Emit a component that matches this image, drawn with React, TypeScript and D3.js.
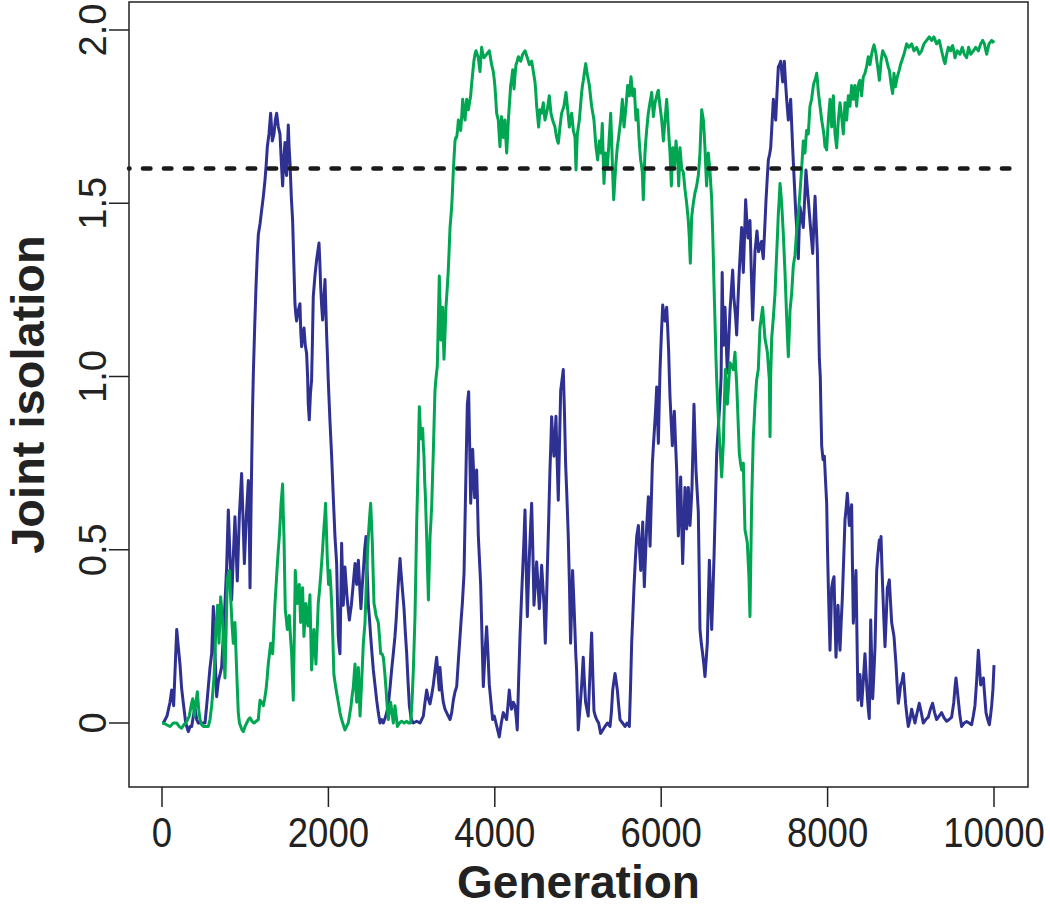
import * as d3 from "d3";
import { useEffect, useRef } from "react";

// generation, joint isolation (blue run)
const blueRun: [number, number][] = [
  [0, 0], [16, 0], [60, 0.02], [96, 0.06], [116, 0.095], [140, 0.05], [160, 0.17], [177, 0.27], [196, 0.22],
  [216, 0.17], [236, 0.1], [256, 0.058], [285, 0], [316, -0.025], [337, -0.01], [357, -0.01], [377, 0.02],
  [397, 0.043], [417, 0.01], [437, 0], [477, 0], [517, 0], [537, 0.05], [557, 0.105], [577, 0.16], [597, 0.2],
  [617, 0.336], [637, 0.2], [657, 0.076], [677, 0.12], [697, 0.14], [717, 0.162], [737, 0.25], [757, 0.346],
  [777, 0.45], [797, 0.615], [817, 0.48], [837, 0.355], [857, 0.48], [877, 0.595], [891, 0.5], [905, 0.41],
  [930, 0.6], [957, 0.72], [975, 0.58], [990, 0.46], [1014, 0.6], [1038, 0.7], [1050, 0.55], [1058, 0.39],
  [1068, 0.58], [1078, 0.75], [1088, 0.9], [1098, 1.01], [1115, 1.15], [1130, 1.26], [1145, 1.35], [1158, 1.41],
  [1178, 1.44], [1198, 1.48], [1218, 1.52], [1238, 1.567], [1252, 1.61], [1266, 1.663], [1286, 1.7], [1306, 1.76],
  [1326, 1.68], [1346, 1.7], [1362, 1.74], [1378, 1.76], [1398, 1.72], [1418, 1.7], [1434, 1.62], [1450, 1.55],
  [1464, 1.63], [1478, 1.675], [1488, 1.6], [1498, 1.58], [1508, 1.66], [1518, 1.726], [1528, 1.66], [1538, 1.62],
  [1554, 1.52], [1570, 1.45], [1584, 1.33], [1598, 1.21], [1608, 1.18], [1618, 1.16], [1638, 1.19], [1658, 1.21],
  [1668, 1.13], [1678, 1.086], [1692, 1.12], [1707, 1.14], [1722, 1.09], [1738, 1.067], [1750, 1.0], [1758, 0.92],
  [1770, 0.875], [1784, 0.95], [1798, 0.99], [1808, 1.1], [1818, 1.23], [1838, 1.29], [1858, 1.336], [1872, 1.36],
  [1887, 1.385], [1897, 1.33], [1907, 1.26], [1920, 1.2], [1931, 1.163], [1945, 1.22], [1959, 1.28], [1969, 1.2],
  [1979, 1.12], [1990, 1.05], [1998, 0.99], [2019, 0.87], [2039, 0.77], [2059, 0.65], [2079, 0.538], [2089, 0.5],
  [2099, 0.46], [2109, 0.35], [2119, 0.25], [2129, 0.22], [2139, 0.2], [2149, 0.35], [2159, 0.519], [2169, 0.43],
  [2179, 0.34], [2189, 0.4], [2199, 0.45], [2225, 0.36], [2252, 0.297], [2264, 0.32], [2276, 0.34], [2298, 0.4],
  [2320, 0.46], [2330, 0.43], [2340, 0.4], [2350, 0.44], [2360, 0.47], [2375, 0.4], [2391, 0.33], [2405, 0.39],
  [2420, 0.44], [2436, 0.5], [2452, 0.538], [2466, 0.44], [2480, 0.34], [2494, 0.3], [2508, 0.25], [2524, 0.2],
  [2540, 0.153], [2560, 0.11], [2580, 0.066], [2600, 0.03], [2620, 0], [2640, 0.01], [2660, 0], [2690, 0.02],
  [2720, 0.05], [2740, 0.1], [2760, 0.153], [2780, 0.2], [2800, 0.25], [2815, 0.3], [2829, 0.36], [2845, 0.42],
  [2861, 0.475], [2871, 0.44], [2881, 0.41], [2895, 0.37], [2909, 0.33], [2925, 0.26], [2941, 0.2], [2957, 0.12],
  [2973, 0.05], [2997, 0.01], [3021, 0], [3061, 0.005], [3101, 0], [3141, 0.02], [3161, 0.06], [3181, 0.095],
  [3201, 0.07], [3221, 0.055], [3241, 0.08], [3261, 0.11], [3281, 0.15], [3301, 0.19], [3318, 0.14], [3333, 0.095],
  [3341, 0.16], [3361, 0.1], [3381, 0.06], [3401, 0.04], [3421, 0.03], [3441, 0.02], [3462, 0.01], [3482, 0.03],
  [3502, 0.066], [3522, 0.09], [3542, 0.105], [3562, 0.18], [3582, 0.25], [3596, 0.3], [3610, 0.345], [3630, 0.43],
  [3642, 0.58], [3654, 0.73], [3662, 0.83], [3670, 0.92], [3686, 0.956], [3698, 0.8], [3710, 0.634], [3722, 0.7],
  [3734, 0.79], [3746, 0.72], [3758, 0.65], [3770, 0.7], [3782, 0.73], [3792, 0.64], [3802, 0.54], [3816, 0.47],
  [3830, 0.4], [3846, 0.25], [3862, 0.105], [3882, 0.2], [3902, 0.278], [3918, 0.2], [3934, 0.11], [3954, 0.06],
  [3974, 0.01], [3994, 0.02], [4014, 0], [4034, -0.02], [4054, -0.04], [4078, 0], [4102, 0.03], [4122, 0.02],
  [4142, 0.01], [4158, 0.05], [4174, 0.095], [4188, 0.06], [4202, 0.04], [4222, 0.06], [4242, 0.05], [4256, 0.02],
  [4270, -0.02], [4286, 0.12], [4303, 0.25], [4319, 0.35], [4335, 0.44], [4349, 0.52], [4363, 0.615], [4377, 0.45],
  [4391, 0.307], [4403, 0.4], [4415, 0.48], [4429, 0.56], [4443, 0.634], [4457, 0.5], [4471, 0.34], [4487, 0.4],
  [4503, 0.465], [4519, 0.4], [4535, 0.33], [4549, 0.39], [4563, 0.455], [4577, 0.4], [4591, 0.345], [4607, 0.23],
  [4619, 0.33], [4631, 0.44], [4647, 0.58], [4663, 0.73], [4673, 0.8], [4683, 0.884], [4697, 0.82], [4711, 0.77],
  [4723, 0.82], [4735, 0.885], [4749, 0.76], [4763, 0.643], [4777, 0.8], [4792, 0.96], [4808, 0.99], [4823, 1.02],
  [4837, 0.9], [4851, 0.75], [4867, 0.65], [4883, 0.54], [4897, 0.4], [4911, 0.23], [4923, 0.33], [4935, 0.44],
  [4949, 0.36], [4963, 0.27], [4973, 0.2], [4983, 0.154], [4993, 0.07], [5003, -0.02], [5023, 0.04], [5043, 0.105],
  [5063, 0.19], [5077, 0.12], [5091, 0.06], [5107, 0.04], [5123, 0.02], [5143, 0.14], [5164, 0.26], [5178, 0.14],
  [5192, 0.035], [5208, 0.02], [5224, 0.01], [5248, 0], [5272, -0.03], [5298, -0.02], [5324, -0.01], [5355, 0],
  [5385, -0.01], [5401, 0.03], [5417, 0.095], [5431, 0.12], [5445, 0.143], [5459, 0.12], [5473, 0.095], [5489, 0.05],
  [5505, 0.01], [5535, 0], [5565, -0.01], [5590, 0], [5617, -0.01], [5631, 0.1], [5645, 0.23], [5659, 0.31],
  [5673, 0.393], [5689, 0.47], [5706, 0.54], [5726, 0.57], [5740, 0.5], [5754, 0.44], [5766, 0.51], [5778, 0.58],
  [5788, 0.48], [5797, 0.393], [5811, 0.48], [5826, 0.57], [5846, 0.653], [5856, 0.58], [5866, 0.51], [5880, 0.63],
  [5894, 0.75], [5906, 0.8], [5918, 0.846], [5932, 0.9], [5946, 0.97], [5956, 0.88], [5966, 0.807], [5976, 0.92],
  [5986, 1.02], [6002, 1.12], [6018, 1.206], [6032, 1.18], [6046, 1.16], [6056, 1.18], [6066, 1.2], [6078, 1.14],
  [6090, 1.07], [6098, 1.0], [6106, 0.94], [6120, 0.87], [6134, 0.8], [6146, 0.86], [6158, 0.9], [6172, 0.81],
  [6186, 0.73], [6196, 0.63], [6206, 0.54], [6220, 0.62], [6234, 0.71], [6246, 0.58], [6258, 0.46], [6272, 0.57],
  [6286, 0.68], [6296, 0.62], [6306, 0.56], [6316, 0.62], [6326, 0.68], [6336, 0.62], [6346, 0.57], [6358, 0.62],
  [6370, 0.68], [6382, 0.8], [6394, 0.92], [6406, 0.82], [6418, 0.73], [6432, 0.67], [6446, 0.61], [6456, 0.45],
  [6466, 0.27], [6482, 0.23], [6498, 0.2], [6512, 0.17], [6526, 0.134], [6540, 0.18], [6554, 0.23], [6566, 0.35],
  [6579, 0.47], [6593, 0.37], [6607, 0.27], [6621, 0.37], [6635, 0.48], [6651, 0.63], [6667, 0.78], [6683, 0.84],
  [6699, 0.9], [6713, 0.96], [6720, 1.0], [6733, 1.3], [6747, 1.09], [6767, 1.2], [6781, 1.1], [6795, 1.01],
  [6811, 1.1], [6827, 1.19], [6843, 1.25], [6859, 1.307], [6873, 1.23], [6895, 1.17], [6907, 1.12], [6923, 1.22],
  [6939, 1.307], [6953, 1.37], [6967, 1.43], [6977, 1.36], [6987, 1.3], [7001, 1.4], [7015, 1.51], [7029, 1.45],
  [7043, 1.4], [7055, 1.42], [7067, 1.45], [7083, 1.3], [7099, 1.163], [7113, 1.26], [7127, 1.36], [7139, 1.39],
  [7151, 1.42], [7161, 1.39], [7171, 1.36], [7189, 1.38], [7207, 1.39], [7217, 1.36], [7227, 1.34], [7243, 1.42],
  [7260, 1.51], [7274, 1.57], [7288, 1.625], [7302, 1.64], [7316, 1.66], [7332, 1.73], [7348, 1.8], [7362, 1.77],
  [7376, 1.74], [7392, 1.82], [7408, 1.894], [7422, 1.9], [7436, 1.91], [7448, 1.88], [7460, 1.85], [7470, 1.88],
  [7480, 1.91], [7494, 1.85], [7508, 1.8], [7518, 1.77], [7528, 1.74], [7542, 1.77], [7556, 1.8], [7568, 1.73],
  [7580, 1.66], [7594, 1.59], [7608, 1.52], [7618, 1.47], [7628, 1.43], [7638, 1.38], [7648, 1.34], [7658, 1.42],
  [7668, 1.49], [7688, 1.46], [7708, 1.43], [7724, 1.51], [7740, 1.596], [7754, 1.55], [7768, 1.51], [7778, 1.48],
  [7788, 1.45], [7805, 1.4], [7821, 1.355], [7835, 1.44], [7849, 1.52], [7863, 1.44], [7877, 1.36], [7889, 1.2],
  [7901, 1.05], [7912, 1.0], [7920, 0.9], [7929, 0.8], [7945, 0.76], [7961, 0.77], [7975, 0.7], [7989, 0.634],
  [7999, 0.5], [8009, 0.393], [8019, 0.3], [8029, 0.21], [8039, 0.3], [8049, 0.39], [8063, 0.41], [8077, 0.422],
  [8089, 0.3], [8101, 0.19], [8113, 0.27], [8125, 0.34], [8137, 0.27], [8149, 0.21], [8163, 0.29], [8177, 0.36],
  [8193, 0.47], [8209, 0.586], [8223, 0.62], [8237, 0.663], [8249, 0.62], [8261, 0.57], [8275, 0.6], [8289, 0.63],
  [8299, 0.45], [8309, 0.288], [8325, 0.36], [8341, 0.44], [8353, 0.25], [8365, 0.066], [8377, 0.1], [8389, 0.14],
  [8399, 0.09], [8409, 0.05], [8429, 0.12], [8449, 0.2], [8463, 0.14], [8477, 0.08], [8489, 0.04], [8501, 0.013],
  [8510, 0.15], [8518, 0.297], [8530, 0.18], [8542, 0.07], [8556, 0.14], [8570, 0.22], [8580, 0.33], [8590, 0.44],
  [8606, 0.49], [8622, 0.528], [8632, 0.5], [8642, 0.538], [8652, 0.46], [8662, 0.39], [8676, 0.3], [8690, 0.22],
  [8704, 0.3], [8718, 0.39], [8730, 0.4], [8742, 0.413], [8756, 0.35], [8770, 0.29], [8784, 0.27], [8798, 0.25],
  [8810, 0.21], [8822, 0.17], [8836, 0.11], [8850, 0.057], [8864, 0.08], [8878, 0.11], [8894, 0.12], [8910, 0.143],
  [8924, 0.1], [8938, 0.055], [8954, 0.02], [8970, -0.01], [8990, 0.01], [9010, 0.04], [9030, 0.02], [9050, 0],
  [9076, 0.03], [9102, 0.057], [9126, 0.03], [9150, 0], [9180, 0.01], [9210, 0.017], [9236, 0.04], [9262, 0.057],
  [9286, 0.03], [9310, 0.01], [9340, 0.02], [9370, 0.03], [9400, 0.015], [9431, 0.005], [9461, 0.01], [9491, 0.017],
  [9517, 0.06], [9530, 0.1], [9543, 0.13], [9557, 0.1], [9571, 0.066], [9591, 0.02], [9611, -0.01], [9641, 0],
  [9671, 0.004], [9701, 0], [9731, -0.005], [9751, 0.02], [9771, 0.05], [9791, 0.12], [9812, 0.21], [9826, 0.16],
  [9840, 0.11], [9856, 0.12], [9872, 0.13], [9888, 0.08], [9904, 0.03], [9924, 0.01], [9944, -0.005], [9958, 0.02],
  [9972, 0.05], [9988, 0.1], [10000, 0.167],
];

// generation, joint isolation (green run)
const greenRun: [number, number][] = [
  [0, 0], [16, 0], [56, -0.005], [96, -0.01], [136, 0], [176, 0], [206, -0.01], [236, -0.015], [262, -0.005],
  [288, 0], [308, 0.01], [328, 0.02], [350, 0.05], [369, 0.07], [389, 0.02], [407, 0.06], [425, 0.09], [441, 0.04],
  [457, 0.01], [477, -0.005], [497, -0.01], [527, -0.01], [557, -0.01], [577, 0.01], [597, 0.05], [611, 0.09],
  [625, 0.13], [637, 0.2], [649, 0.288], [659, 0.31], [669, 0.34], [677, 0.28], [685, 0.23], [695, 0.3], [705, 0.364],
  [717, 0.33], [729, 0.29], [743, 0.2], [757, 0.13], [771, 0.27], [785, 0.413], [797, 0.43], [809, 0.44], [819, 0.39],
  [829, 0.345], [843, 0.28], [857, 0.23], [867, 0.26], [877, 0.29], [887, 0.22], [897, 0.153], [907, 0.09], [917, 0.03],
  [931, 0], [946, -0.01], [962, -0.02], [978, -0.025], [998, -0.01], [1018, 0], [1038, 0.01], [1058, 0.015],
  [1082, 0.005], [1106, 0], [1132, 0.005], [1158, 0.01], [1168, 0.04], [1178, 0.066], [1198, 0.06], [1218, 0.05],
  [1234, 0.07], [1250, 0.095], [1264, 0.13], [1278, 0.172], [1292, 0.2], [1306, 0.23], [1318, 0.22], [1330, 0.2],
  [1344, 0.27], [1358, 0.345], [1372, 0.4], [1386, 0.455], [1398, 0.5], [1410, 0.538], [1420, 0.58], [1430, 0.63],
  [1440, 0.66], [1450, 0.69], [1458, 0.6], [1466, 0.54], [1474, 0.43], [1482, 0.326], [1494, 0.3], [1506, 0.27],
  [1518, 0.29], [1530, 0.31], [1544, 0.25], [1558, 0.2], [1568, 0.13], [1578, 0.066], [1590, 0.25], [1602, 0.44],
  [1614, 0.39], [1626, 0.345], [1638, 0.37], [1650, 0.4], [1658, 0.35], [1666, 0.29], [1678, 0.34], [1690, 0.39],
  [1698, 0.32], [1706, 0.25], [1718, 0.3], [1730, 0.345], [1742, 0.31], [1754, 0.28], [1766, 0.32], [1778, 0.37],
  [1788, 0.26], [1798, 0.153], [1812, 0.21], [1826, 0.27], [1838, 0.22], [1850, 0.17], [1864, 0.26], [1878, 0.345],
  [1892, 0.38], [1906, 0.42], [1918, 0.46], [1930, 0.5], [1940, 0.54], [1950, 0.576], [1958, 0.6], [1966, 0.634],
  [1976, 0.56], [1986, 0.48], [1994, 0.44], [2002, 0.4], [2010, 0.42], [2018, 0.44], [2030, 0.39], [2042, 0.33],
  [2054, 0.24], [2066, 0.14], [2078, 0.12], [2090, 0.1], [2104, 0.08], [2119, 0.06], [2139, 0.03], [2159, 0.01],
  [2179, -0.005], [2199, -0.02], [2219, -0.01], [2239, 0], [2256, 0.025], [2272, 0.05], [2286, 0.08], [2300, 0.105],
  [2310, 0.14], [2320, 0.17], [2330, 0.1], [2340, 0.06], [2350, 0.11], [2360, 0.16], [2370, 0.09], [2380, 0.02],
  [2400, 0.12], [2420, 0.23], [2430, 0.26], [2440, 0.29], [2450, 0.36], [2460, 0.44], [2470, 0.49], [2480, 0.538],
  [2494, 0.59], [2508, 0.634], [2518, 0.58], [2528, 0.52], [2538, 0.43], [2548, 0.345], [2560, 0.33], [2572, 0.31],
  [2586, 0.3], [2600, 0.29], [2614, 0.25], [2628, 0.2], [2644, 0.2], [2660, 0.19], [2676, 0.15], [2692, 0.1],
  [2706, 0.05], [2720, 0.01], [2734, 0.04], [2748, 0.06], [2764, 0.03], [2780, 0], [2790, 0.02], [2800, 0.05],
  [2815, 0.02], [2829, -0.01], [2855, 0], [2881, 0.005], [2911, 0], [2941, 0.005], [2965, 0], [2989, 0],
  [3005, 0.06], [3021, 0.153], [3031, 0.23], [3041, 0.31], [3051, 0.44], [3061, 0.576], [3071, 0.67], [3081, 0.77],
  [3087, 0.85], [3093, 0.913], [3103, 0.86], [3113, 0.82], [3123, 0.84], [3133, 0.85], [3141, 0.8], [3149, 0.77],
  [3157, 0.7], [3165, 0.66], [3173, 0.6], [3181, 0.538], [3191, 0.45], [3202, 0.355], [3212, 0.45], [3222, 0.54],
  [3232, 0.58], [3242, 0.63], [3252, 0.71], [3262, 0.79], [3272, 0.88], [3281, 0.96], [3295, 1.0], [3309, 1.03],
  [3321, 1.16], [3333, 1.29], [3343, 1.2], [3353, 1.105], [3363, 1.15], [3373, 1.2], [3381, 1.12], [3389, 1.05],
  [3401, 1.12], [3413, 1.2], [3427, 1.25], [3441, 1.307], [3452, 1.37], [3462, 1.43], [3472, 1.46], [3482, 1.49],
  [3492, 1.54], [3502, 1.596], [3512, 1.64], [3522, 1.68], [3532, 1.69], [3542, 1.69], [3552, 1.71], [3562, 1.74],
  [3576, 1.72], [3590, 1.71], [3602, 1.75], [3614, 1.8], [3628, 1.77], [3642, 1.74], [3652, 1.77], [3662, 1.8],
  [3672, 1.79], [3682, 1.77], [3696, 1.79], [3710, 1.81], [3720, 1.84], [3730, 1.865], [3740, 1.89], [3750, 1.913],
  [3762, 1.93], [3774, 1.94], [3788, 1.93], [3802, 1.92], [3812, 1.9], [3822, 1.88], [3832, 1.92], [3842, 1.95],
  [3856, 1.93], [3870, 1.92], [3886, 1.925], [3902, 1.93], [3918, 1.935], [3934, 1.94], [3948, 1.92], [3962, 1.9],
  [3972, 1.89], [3982, 1.88], [3992, 1.86], [4002, 1.836], [4012, 1.8], [4022, 1.76], [4032, 1.75], [4042, 1.74],
  [4052, 1.7], [4062, 1.663], [4072, 1.71], [4082, 1.75], [4092, 1.72], [4102, 1.69], [4112, 1.71], [4122, 1.74],
  [4132, 1.69], [4143, 1.645], [4153, 1.69], [4163, 1.74], [4177, 1.79], [4191, 1.84], [4203, 1.86], [4215, 1.885],
  [4223, 1.86], [4231, 1.83], [4243, 1.87], [4255, 1.9], [4269, 1.91], [4283, 1.923], [4297, 1.915], [4311, 1.91],
  [4323, 1.92], [4335, 1.93], [4349, 1.935], [4363, 1.94], [4377, 1.93], [4391, 1.92], [4403, 1.91], [4415, 1.9],
  [4429, 1.905], [4443, 1.91], [4453, 1.895], [4463, 1.88], [4473, 1.865], [4483, 1.85], [4493, 1.82], [4503, 1.78],
  [4515, 1.75], [4527, 1.72], [4535, 1.745], [4543, 1.77], [4553, 1.765], [4563, 1.76], [4573, 1.775], [4583, 1.79],
  [4593, 1.765], [4603, 1.74], [4617, 1.755], [4631, 1.77], [4643, 1.79], [4655, 1.81], [4665, 1.785], [4675, 1.76],
  [4685, 1.75], [4695, 1.74], [4709, 1.73], [4723, 1.72], [4733, 1.705], [4743, 1.69], [4753, 1.68], [4763, 1.673],
  [4773, 1.695], [4783, 1.72], [4793, 1.74], [4803, 1.76], [4817, 1.77], [4831, 1.78], [4843, 1.8], [4856, 1.82],
  [4864, 1.8], [4872, 1.78], [4884, 1.75], [4896, 1.72], [4910, 1.74], [4924, 1.76], [4934, 1.735], [4944, 1.71],
  [4954, 1.7], [4964, 1.69], [4970, 1.64], [4976, 1.596], [4984, 1.65], [4992, 1.7], [5004, 1.72], [5016, 1.74],
  [5030, 1.78], [5044, 1.82], [5054, 1.84], [5064, 1.855], [5078, 1.88], [5093, 1.903], [5103, 1.885], [5113, 1.87],
  [5125, 1.855], [5137, 1.84], [5150, 1.81], [5164, 1.78], [5178, 1.76], [5192, 1.74], [5204, 1.7], [5216, 1.663],
  [5226, 1.645], [5236, 1.625], [5246, 1.65], [5256, 1.68], [5266, 1.66], [5276, 1.645], [5284, 1.69], [5292, 1.73],
  [5302, 1.64], [5312, 1.557], [5322, 1.6], [5332, 1.645], [5342, 1.625], [5353, 1.605], [5363, 1.64], [5373, 1.68],
  [5383, 1.72], [5393, 1.76], [5403, 1.69], [5413, 1.615], [5421, 1.56], [5429, 1.51], [5441, 1.56], [5453, 1.605],
  [5463, 1.635], [5473, 1.663], [5483, 1.68], [5493, 1.7], [5503, 1.72], [5513, 1.74], [5523, 1.77], [5533, 1.8],
  [5543, 1.76], [5553, 1.72], [5565, 1.75], [5577, 1.78], [5587, 1.81], [5597, 1.84], [5607, 1.825], [5617, 1.81],
  [5627, 1.84], [5637, 1.865], [5647, 1.84], [5657, 1.81], [5667, 1.82], [5677, 1.83], [5687, 1.785], [5697, 1.74],
  [5707, 1.755], [5717, 1.77], [5725, 1.73], [5733, 1.69], [5743, 1.655], [5753, 1.625], [5763, 1.61], [5773, 1.59],
  [5779, 1.55], [5785, 1.51], [5795, 1.58], [5805, 1.645], [5815, 1.68], [5825, 1.71], [5835, 1.735], [5845, 1.76],
  [5855, 1.775], [5865, 1.79], [5876, 1.805], [5886, 1.82], [5896, 1.785], [5906, 1.75], [5916, 1.77], [5926, 1.79],
  [5936, 1.8], [5946, 1.81], [5956, 1.82], [5966, 1.826], [5976, 1.8], [5986, 1.78], [5996, 1.76], [6006, 1.74],
  [6016, 1.71], [6026, 1.68], [6036, 1.71], [6046, 1.74], [6056, 1.77], [6066, 1.8], [6076, 1.76], [6086, 1.72],
  [6096, 1.68], [6106, 1.645], [6114, 1.6], [6122, 1.55], [6130, 1.6], [6138, 1.66], [6148, 1.63], [6158, 1.605],
  [6168, 1.64], [6178, 1.68], [6188, 1.65], [6198, 1.625], [6204, 1.59], [6210, 1.55], [6218, 1.6], [6226, 1.66],
  [6236, 1.63], [6246, 1.6], [6256, 1.595], [6266, 1.59], [6276, 1.565], [6286, 1.54], [6296, 1.52], [6306, 1.5],
  [6316, 1.475], [6326, 1.45], [6332, 1.425], [6338, 1.4], [6344, 1.36], [6350, 1.327], [6358, 1.39], [6366, 1.46],
  [6376, 1.48], [6386, 1.5], [6396, 1.515], [6406, 1.53], [6416, 1.54], [6426, 1.55], [6436, 1.565], [6446, 1.58],
  [6456, 1.61], [6466, 1.645], [6476, 1.71], [6487, 1.77], [6497, 1.755], [6507, 1.74], [6517, 1.7], [6526, 1.66],
  [6536, 1.6], [6546, 1.55], [6556, 1.6], [6566, 1.645], [6576, 1.62], [6587, 1.59], [6597, 1.55], [6607, 1.51],
  [6613, 1.46], [6619, 1.413], [6627, 1.34], [6635, 1.26], [6643, 1.19], [6651, 1.12], [6659, 1.05], [6667, 0.99],
  [6683, 0.9], [6699, 0.826], [6713, 0.77], [6727, 0.71], [6737, 0.76], [6747, 0.81], [6759, 0.92], [6771, 1.02],
  [6783, 0.97], [6795, 0.92], [6811, 0.98], [6827, 1.04], [6847, 1.03], [6867, 1.02], [6877, 1.045], [6887, 1.07],
  [6897, 1.02], [6907, 0.98], [6923, 0.88], [6939, 0.778], [6953, 0.75], [6967, 0.73], [6977, 0.74], [6987, 0.75],
  [6997, 0.65], [7007, 0.557], [7021, 0.54], [7035, 0.52], [7045, 0.47], [7055, 0.42], [7061, 0.36], [7067, 0.307],
  [7077, 0.47], [7087, 0.634], [7097, 0.73], [7107, 0.826], [7117, 0.87], [7127, 0.92], [7137, 0.955], [7147, 0.99],
  [7157, 1.005], [7167, 1.02], [7177, 1.08], [7187, 1.14], [7203, 1.17], [7219, 1.2], [7233, 1.155], [7247, 1.11],
  [7262, 1.09], [7276, 1.07], [7288, 1.03], [7300, 0.99], [7308, 0.826], [7316, 1.0], [7328, 1.11], [7338, 1.14],
  [7348, 1.17], [7358, 1.205], [7368, 1.24], [7378, 1.3], [7388, 1.355], [7398, 1.41], [7408, 1.47], [7418, 1.51],
  [7428, 1.557], [7438, 1.53], [7448, 1.5], [7458, 1.455], [7468, 1.41], [7478, 1.355], [7488, 1.3], [7498, 1.235],
  [7508, 1.17], [7518, 1.11], [7528, 1.057], [7538, 1.12], [7548, 1.19], [7558, 1.215], [7568, 1.24], [7578, 1.28],
  [7588, 1.32], [7598, 1.335], [7608, 1.35], [7618, 1.385], [7628, 1.42], [7638, 1.445], [7648, 1.47], [7658, 1.5],
  [7668, 1.53], [7678, 1.565], [7688, 1.6], [7698, 1.64], [7708, 1.68], [7718, 1.66], [7728, 1.645], [7738, 1.68],
  [7748, 1.71], [7758, 1.705], [7768, 1.7], [7778, 1.74], [7788, 1.78], [7798, 1.79], [7808, 1.8], [7818, 1.82],
  [7829, 1.84], [7839, 1.85], [7849, 1.855], [7859, 1.865], [7869, 1.875], [7879, 1.85], [7889, 1.82], [7899, 1.8],
  [7909, 1.78], [7919, 1.76], [7929, 1.74], [7939, 1.725], [7949, 1.71], [7959, 1.69], [7969, 1.663], [7979, 1.66],
  [7989, 1.654], [7999, 1.7], [8009, 1.74], [8019, 1.77], [8029, 1.8], [8039, 1.76], [8049, 1.72], [8059, 1.765],
  [8069, 1.81], [8079, 1.755], [8089, 1.7], [8099, 1.68], [8109, 1.66], [8119, 1.7], [8129, 1.74], [8139, 1.765],
  [8149, 1.79], [8159, 1.77], [8169, 1.75], [8179, 1.725], [8189, 1.7], [8199, 1.745], [8209, 1.79], [8219, 1.765],
  [8229, 1.74], [8239, 1.775], [8249, 1.81], [8259, 1.795], [8269, 1.78], [8279, 1.81], [8289, 1.84], [8299, 1.82],
  [8309, 1.8], [8319, 1.82], [8329, 1.84], [8339, 1.81], [8349, 1.78], [8359, 1.81], [8369, 1.84], [8379, 1.85],
  [8389, 1.855], [8399, 1.83], [8409, 1.81], [8419, 1.84], [8429, 1.865], [8439, 1.87], [8449, 1.875], [8459, 1.885],
  [8469, 1.894], [8479, 1.91], [8489, 1.923], [8499, 1.91], [8509, 1.9], [8519, 1.915], [8529, 1.93], [8543, 1.945],
  [8558, 1.957], [8570, 1.945], [8582, 1.93], [8592, 1.91], [8602, 1.894], [8612, 1.875], [8622, 1.855], [8632, 1.88],
  [8642, 1.91], [8652, 1.925], [8662, 1.94], [8672, 1.935], [8682, 1.93], [8692, 1.925], [8702, 1.92], [8712, 1.91],
  [8722, 1.9], [8732, 1.89], [8742, 1.885], [8752, 1.865], [8762, 1.845], [8772, 1.83], [8782, 1.817], [8790, 1.845],
  [8798, 1.875], [8806, 1.855], [8814, 1.836], [8826, 1.85], [8838, 1.865], [8850, 1.875], [8862, 1.885], [8876, 1.9],
  [8890, 1.91], [8904, 1.92], [8918, 1.93], [8934, 1.945], [8950, 1.96], [8964, 1.955], [8978, 1.95], [8994, 1.955],
  [9010, 1.96], [9024, 1.95], [9038, 1.94], [9054, 1.945], [9070, 1.95], [9086, 1.94], [9102, 1.93], [9116, 1.935],
  [9130, 1.94], [9144, 1.95], [9158, 1.96], [9174, 1.965], [9190, 1.97], [9206, 1.975], [9222, 1.98], [9236, 1.975],
  [9250, 1.97], [9264, 1.975], [9278, 1.98], [9294, 1.97], [9310, 1.96], [9326, 1.965], [9342, 1.97], [9356, 1.955],
  [9370, 1.94], [9380, 1.93], [9390, 1.92], [9400, 1.91], [9411, 1.903], [9421, 1.915], [9431, 1.93], [9441, 1.94],
  [9451, 1.95], [9465, 1.945], [9479, 1.94], [9491, 1.95], [9503, 1.955], [9517, 1.94], [9531, 1.92], [9545, 1.93],
  [9559, 1.94], [9575, 1.935], [9591, 1.93], [9605, 1.94], [9619, 1.95], [9631, 1.94], [9643, 1.93], [9657, 1.925],
  [9671, 1.92], [9683, 1.935], [9695, 1.95], [9707, 1.94], [9720, 1.93], [9736, 1.935], [9752, 1.94], [9766, 1.945],
  [9780, 1.95], [9796, 1.945], [9812, 1.94], [9826, 1.95], [9840, 1.96], [9852, 1.965], [9864, 1.97], [9874, 1.965],
  [9884, 1.96], [9898, 1.945], [9912, 1.93], [9926, 1.945], [9940, 1.96], [9956, 1.965], [9972, 1.97], [9986, 1.965],
  [10000, 1.97],
];

const xTicks = [0, 2000, 4000, 6000, 8000, 10000];
const yTicks = [0, 0.5, 1, 1.5, 2];
const yTickLabels = ["0", "0.5", "1.0", "1.5", "2.0"];
const threshold = 1.6;

const W = 1050, H = 910;
const box = { left: 129, top: 2, right: 1028, bottom: 787 };
const font = "'Liberation Sans', Arial, Helvetica, sans-serif";

export default function App() {
  const ref = useRef<SVGSVGElement>(null);

  useEffect(() => {
    const svg = d3.select(ref.current);
    svg.selectAll("*").remove();

    const x = d3.scaleLinear().domain([0, 10000]).range([162, 994]);
    const y = d3.scaleLinear().domain([0, 2]).range([723, 30]);

    const line = d3
      .line<[number, number]>()
      .x(d => x(d[0]))
      .y(d => y(d[1]));

    svg.append("rect").attr("width", W).attr("height", H).attr("fill", "white");

    // blue first, green drawn on top
    svg.append("path")
      .datum(blueRun)
      .attr("d", line)
      .attr("fill", "none")
      .attr("stroke", "#2e3192")
      .attr("stroke-width", 3)
      .attr("stroke-linejoin", "round");

    svg.append("path")
      .datum(greenRun)
      .attr("d", line)
      .attr("fill", "none")
      .attr("stroke", "#00a651")
      .attr("stroke-width", 3)
      .attr("stroke-linejoin", "round");

    svg.append("line")
      .attr("x1", box.left)
      .attr("x2", 1020)
      .attr("y1", y(threshold))
      .attr("y2", y(threshold))
      .attr("stroke", "#1a1a1a")
      .attr("stroke-width", 4.5)
      .attr("stroke-linecap", "round")
      .attr("stroke-dasharray", "7.5 13.45")
      .attr("stroke-dashoffset", 7);

    svg.append("rect")
      .attr("x", box.left)
      .attr("y", box.top)
      .attr("width", box.right - box.left)
      .attr("height", box.bottom - box.top)
      .attr("fill", "none")
      .attr("stroke", "#222")
      .attr("stroke-width", 1.5);

    // x axis
    const xg = svg.append("g");
    xg.selectAll("line")
      .data(xTicks)
      .enter()
      .append("line")
      .attr("x1", d => x(d)).attr("x2", d => x(d))
      .attr("y1", box.bottom).attr("y2", box.bottom + 20)
      .attr("stroke", "#222").attr("stroke-width", 1.5);
    xg.selectAll("text")
      .data(xTicks)
      .enter()
      .append("text")
      .attr("transform", d => `translate(${x(d)},847) scale(0.85,1)`)
      .attr("text-anchor", "middle")
      .attr("font-family", font)
      .attr("font-size", 43)
      .attr("fill", "#222")
      .text(d => String(d));

    // y axis
    const yg = svg.append("g");
    yg.selectAll("line")
      .data(yTicks)
      .enter()
      .append("line")
      .attr("x1", box.left - 20).attr("x2", box.left)
      .attr("y1", d => y(d)).attr("y2", d => y(d))
      .attr("stroke", "#222").attr("stroke-width", 1.5);
    yg.selectAll("text")
      .data(yTicks)
      .enter()
      .append("text")
      .attr("transform", d => `translate(106,${y(d)}) rotate(-90)`)
      .attr("text-anchor", "middle")
      .attr("font-family", font)
      .attr("font-size", 38)
      .attr("fill", "#222")
      .text((d, i) => yTickLabels[i]);

    svg.append("text")
      .attr("transform", `translate(${(box.left + box.right) / 2},898)`)
      .attr("text-anchor", "middle")
      .attr("font-family", font)
      .attr("font-weight", "bold")
      .attr("font-size", 46)
      .attr("fill", "#222")
      .text("Generation");

    svg.append("text")
      .attr("transform", `translate(44,${(box.top + box.bottom) / 2}) rotate(-90)`)
      .attr("text-anchor", "middle")
      .attr("font-family", font)
      .attr("font-weight", "bold")
      .attr("font-size", 47)
      .attr("fill", "#222")
      .text("Joint isolation");
  }, []);

  return (
    <svg
      ref={ref}
      width={W}
      height={H}
      style={{ position: "absolute", left: 0, top: 0, display: "block" }}
    />
  );
}
